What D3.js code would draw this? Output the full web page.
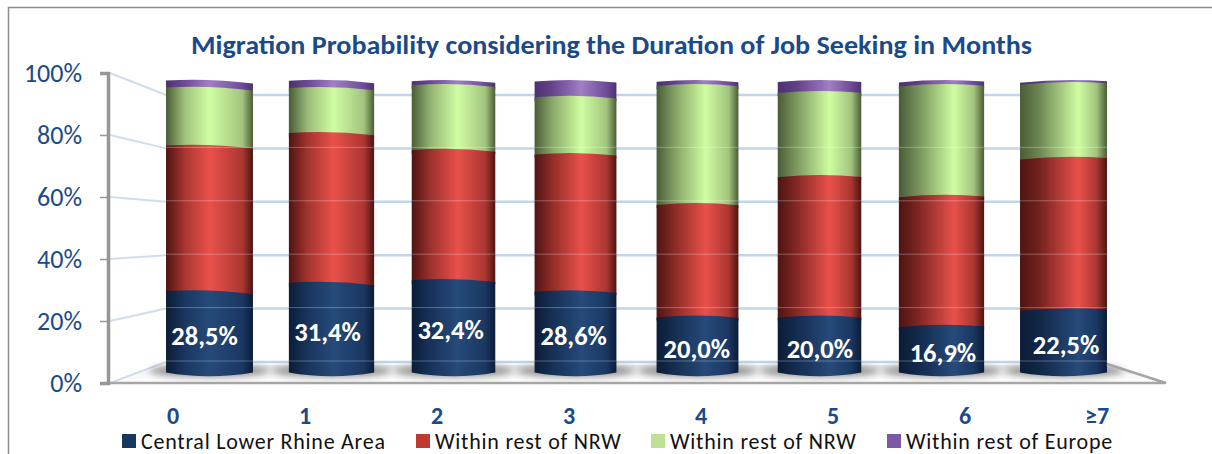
<!DOCTYPE html>
<html>
<head>
<meta charset="utf-8">
<script src="https://cdn.jsdelivr.net/npm/d3@7"></script>
<style>
  html, body { margin: 0; padding: 0; background: #fff; }
  svg { display: block; font-family: Carlito, "Open Sans", sans-serif; }
</style>
</head>
<body>
<div id="chart"></div>
<script>
var categories = ["0", "1", "2", "3", "4", "5", "6", "≥7"];
var centralRhine = [28.5, 31.4, 32.4, 28.6, 20.0, 20.0, 16.9, 22.5];
var restNrwRed = [49.4, 50.9, 44.2, 46.6, 38.2, 47.7, 44.1, 51.4];
var restNrwGreen = [19.7, 15.3, 22.0, 19.4, 40.4, 28.6, 37.6, 25.4];
var restEurope = [2.4, 2.4, 1.4, 5.4, 1.4, 3.7, 1.4, 0.7];
var seriesNames = ["Central Lower Rhine Area", "Within rest of NRW", "Within rest of NRW", "Within rest of Europe"];
var yTicks = [0, 20, 40, 60, 80, 100];

var titleText = "Migration Probability considering the Duration of Job Seeking in Months";
var navy = "#1a4a8a";

var width = 1212, height = 454;

var svg = d3.select("#chart").append("svg")
  .attr("width", width)
  .attr("height", height);

var defs = svg.append("defs");
defs.append("filter").attr("id", "blur").attr("x", "-30%").attr("width", "160%")
  .attr("y", "-100%").attr("height", "300%")
  .append("feGaussianBlur").attr("stdDeviation", 3.5);

// the chart is a fake 3d one, so front wall, back wall and bars each get a scale
var yFront = d3.scaleLinear().domain([0, 100]).range([383, 73]);
var yBack = d3.scaleLinear().domain([0, 100]).range([362, 95]);
var yBar = d3.scaleLinear().domain([0, 100]).range([375.5, 81]);
var xBar = d3.scalePoint().domain(categories).range([209.5, 1063.5]);
var xLabel = d3.scalePoint().domain(categories).range([173, 1097]);
var xValue = d3.scalePoint().domain(categories).range([204.5, 1066]);
var tilt = d3.scaleLinear().domain([0, 7]).range([3, -1.5]);

var rows = categories.map(function(c, i) {
  return { cat: c, a: centralRhine[i], b: restNrwRed[i], c: restNrwGreen[i], d: restEurope[i] };
});
var stacked = d3.stack().keys(["a", "b", "c", "d"])(rows);

var palette = [
  { dark: "#0b1c36", mid: "#1a3761", hi: "#264a7a", swatch: "#17375e" },
  { dark: "#4e1412", mid: "#ab3631", hi: "#e9514b", swatch: "#c0392f" },
  { dark: "#4a5c36", mid: "#a2c47e", hi: "#d0fda2", swatch: "#bfe092" },
  { dark: "#4d3170", mid: "#6f4a98", hi: "#a07fc6", swatch: "#7b58a8" }
];

// frame
svg.append("path")
  .attr("d", "M8.5," + height + "V7.5H" + width)
  .attr("fill", "none")
  .attr("stroke", "#8c8c8c")
  .attr("stroke-width", 1.5);

// title
svg.append("text")
  .attr("x", 611.5)
  .attr("y", 54)
  .attr("text-anchor", "middle")
  .attr("font-size", 26)
  .attr("font-weight", 700)
  .attr("fill", navy)
  .attr("textLength", 841)
  .attr("lengthAdjust", "spacingAndGlyphs")
  .text(titleText);

// floor
var floorGrad = defs.append("linearGradient").attr("id", "floor")
  .attr("x1", 0).attr("x2", 0).attr("y1", 0).attr("y2", 1);
floorGrad.append("stop").attr("offset", 0).attr("stop-color", "#e6e6e6");
floorGrad.append("stop").attr("offset", 0.6).attr("stop-color", "#f8f8f8");
floorGrad.append("stop").attr("offset", 1).attr("stop-color", "#ffffff");

var floorBackY = yBack(0) + 3;
svg.append("path")
  .attr("d", "M110," + yFront(0) + "L166," + floorBackY + "H1107L1166," + yFront(0) + "Z")
  .attr("fill", "url(#floor)");

// grid lines on the side wall and the back wall
var grid = svg.append("g").attr("fill", "none").attr("stroke", "#c3d5ea");
grid.selectAll("path.side")
  .data(yTicks).enter().append("path")
  .attr("class", "side")
  .attr("stroke-width", 2)
  .attr("opacity", 0.8)
  .attr("d", function(d) { return "M110," + yFront(d) + "L166," + yBack(d); });
grid.selectAll("line.back")
  .data(yTicks).enter().append("line")
  .attr("class", "back")
  .attr("stroke-width", 2.5)
  .attr("x1", 166).attr("x2", 1107)
  .attr("y1", function(d) { return yBack(d); })
  .attr("y2", function(d) { return yBack(d); });

// shadows under the cylinders
svg.append("g").selectAll("ellipse")
  .data(categories).enter().append("ellipse")
  .attr("cx", function(d) { return xBar(d); })
  .attr("cy", 371)
  .attr("rx", 60)
  .attr("ry", 6)
  .attr("fill", "#666")
  .attr("opacity", 0.7)
  .attr("filter", "url(#blur)");

function barWidth(i) {
  return 81 + Math.abs(i - 3.5) * 1.7;
}

function gradientFor(s, i) {
  var p = palette[s];
  var t = i / 7;
  var id = "g" + s + "_" + i;
  var g = defs.append("linearGradient").attr("id", id);
  g.append("stop").attr("offset", 0).attr("stop-color", p.dark);
  g.append("stop").attr("offset", 0.22).attr("stop-color", d3.interpolateRgb(p.mid, p.dark)(t * 0.6));
  g.append("stop").attr("offset", 0.5 + 0.17 * t).attr("stop-color", p.hi);
  g.append("stop").attr("offset", 0.88).attr("stop-color", p.mid);
  g.append("stop").attr("offset", 1).attr("stop-color", p.dark);
  return "url(#" + id + ")";
}

// one slice of a cylinder, only the top edge is curved, the bottom gets
// covered by the next slice down except for the lowest one
function slicePath(i, cat, y0, y1, s) {
  var w = barWidth(i) / 2;
  var cx = xBar(cat);
  var tl = tilt(i);
  var left = cx - w, right = cx + w;
  var topL = y1 + 1 - tl / 2, topR = y1 + 1 + tl / 2;
  var bottom = s === 0
    ? "L" + right + "," + (y0 - 3) + "Q" + cx + "," + (y0 + 4.5) + " " + left + "," + (y0 - 3)
    : "L" + right + "," + (y0 + 4) + "H" + left;
  return "M" + left + "," + topL +
    "Q" + cx + "," + (y1 - 3) + " " + right + "," + topR +
    bottom + "Z";
}

// top slices first so the bulge of the lower one sits over them
var bars = svg.append("g");
d3.range(3, -1, -1).forEach(function(s) {
  stacked[s].forEach(function(seg, i) {
    bars.append("path")
      .attr("d", slicePath(i, categories[i], yBar(seg[0]), yBar(seg[1]), s))
      .attr("fill", gradientFor(s, i));
  });
});

// the back grid shows faintly through the bars
svg.append("g").selectAll("g")
  .data(yTicks.slice(0, 5)).enter().append("g")
  .each(function(t) {
    d3.select(this).selectAll("line")
      .data(categories).enter().append("line")
      .attr("x1", function(d, i) { return xBar(d) - barWidth(i) / 2; })
      .attr("x2", function(d, i) { return xBar(d) + barWidth(i) / 2; })
      .attr("y1", yBack(t) - 1)
      .attr("y2", yBack(t) - 1)
      .attr("stroke", "#fff")
      .attr("opacity", 0.28);
  });

// value labels
svg.append("g").selectAll("text")
  .data(centralRhine).enter().append("text")
  .attr("x", function(d, i) { return xValue(categories[i]); })
  .attr("y", function(d) { return (yBar(0) + yBar(d)) / 2 + 11.5; })
  .attr("text-anchor", "middle")
  .attr("font-size", 26.5)
  .attr("font-weight", 700)
  .attr("fill", "#fff")
  .text(function(d) { return d.toFixed(1).replace(".", ",") + "%"; });

// floor front edge and right edge
svg.append("path")
  .attr("d", "M108," + yFront(0) + "H1166L1107,364")
  .attr("fill", "none")
  .attr("stroke", "#a6a6a6")
  .attr("stroke-width", 2.5);

// y axis
var yAxis = svg.append("g")
  .attr("transform", "translate(108,0)")
  .call(d3.axisLeft(yFront).tickValues(yTicks).tickSize(8).tickPadding(18)
    .tickFormat(function(d) { return d + "%"; }));
yAxis.select(".domain").attr("stroke", "#969696").attr("stroke-width", 3.5);
yAxis.selectAll(".tick line").attr("stroke", "#969696").attr("stroke-width", 1.5);
yAxis.selectAll(".tick text")
  .attr("font-size", 26)
  .attr("font-family", "Carlito, 'Open Sans', sans-serif")
  .attr("fill", navy);

// x labels, moved up a little so they clear the legend row
svg.append("g").selectAll("text")
  .data(categories).enter().append("text")
  .attr("x", function(d) { return xLabel(d); })
  .attr("y", 424)
  .attr("text-anchor", "middle")
  .attr("font-size", 24)
  .attr("font-weight", 700)
  .attr("fill", navy)
  .text(function(d) { return d; });

// legend
var legendX = [122, 416, 651, 887];
var legend = svg.append("g").selectAll("g")
  .data(seriesNames).enter().append("g")
  .attr("transform", function(d, i) { return "translate(" + legendX[i] + ",0)"; });
legend.append("rect")
  .attr("y", 434)
  .attr("width", 14)
  .attr("height", 14)
  .attr("fill", function(d, i) { return palette[i].swatch; });
legend.append("text")
  .attr("x", 19)
  .attr("y", 449)
  .attr("font-size", 22)
  .attr("letter-spacing", 0.75)
  .attr("fill", "#111")
  .text(function(d) { return d; });
</script>
</body>
</html>
